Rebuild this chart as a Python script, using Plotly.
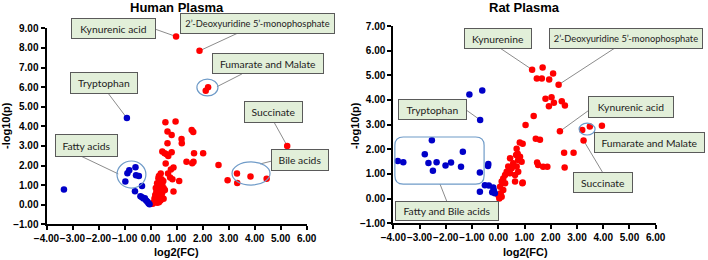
import plotly.graph_objects as go

# ---------------- DATA ----------------
# Human plasma: up-regulated (red)
human_up_x = [0.98, 1.88, 2.21, 2.12, 5.25,
              0.57, 0.96, 0.65, 0.81, 1.58, 1.64, 1.19, 1.20, 0.65, 0.45, 0.54, 0.81, 0.68, 0.62,
              1.67, 2.02, 0.58, 1.38, 1.60, 1.65, 2.61, 0.88, 0.78, 0.67, 0.39, 0.32, 0.75, 0.84,
              1.10, 0.49, 3.32, 3.84, 4.46, 2.96, 3.33, 0.88,
              0.30, 0.42, 0.35, 0.25, 0.45, 0.30, 0.40, 0.20, 0.50, 0.28, 0.38, 0.22, 0.45, 0.30,
              0.18, 0.40, 0.25, 0.35, 0.15, 0.45, 0.28, 0.20, 0.38, 0.12, 0.25, 0.08, 0.32, 0.50, 0.55]
human_up_y = [8.58, 7.85, 5.99, 5.82, 3.00,
              4.21, 4.24, 3.74, 3.56, 3.81, 3.71, 3.35, 3.13, 3.13, 2.72, 2.63, 2.67, 2.49, 2.58,
              2.62, 2.62, 2.10, 2.19, 2.12, 2.19, 2.03, 1.90, 1.80, 1.59, 1.59, 1.47, 1.39, 1.30,
              1.21, 1.21, 1.59, 1.44, 1.33, 1.25, 1.11, 0.67,
              1.35, 1.30, 1.15, 1.10, 1.05, 0.95, 0.90, 0.85, 0.85, 0.78, 0.72, 0.65, 0.62, 0.58,
              0.50, 0.50, 0.42, 0.38, 0.32, 0.35, 0.27, 0.20, 0.22, 0.12, 0.10, 0.05, 0.12, 0.30, 0.75]
# Human plasma: down-regulated (blue)
human_down_x = [-3.33, -0.91, -0.97, -0.89, -0.82, -0.58, -0.56, -0.45, -0.33, -0.60,
                -0.39, -0.33, -0.27, -0.22, -0.17, -0.12, -0.08, -0.04]
human_down_y = [0.77, 4.42, 1.18, 1.61, 1.76, 1.91, 1.50, 1.47, 0.96, 0.68,
                0.43, 0.38, 0.31, 0.33, 0.22, 0.15, 0.07, 0.02]

# Rat plasma: up-regulated (red)
rat_up_x = [1.29, 1.69, 1.47, 1.66, 1.94, 2.09, 2.30, 1.80, 2.03, 2.12, 1.93, 2.42, 2.54,
            1.35, 1.04, 2.35, 3.20, 3.49, 3.95, 3.25, 1.43, 1.59, 2.51, 2.87, 2.53, 1.48, 1.52,
            1.71, 1.87, 0.82, 0.93, 0.70, 0.92, 0.64, 0.74,
            0.68, 0.83, 0.45, 0.76, 0.89, 0.57, 0.38, 0.70, 0.51, 0.32, 0.76, 0.64, 0.26, 0.93,
            0.19, 0.13, 0.26, 0.07, 0.19, 0.09, 0.00, 0.13, 0.04, 0.45]
rat_up_y = [5.23, 5.32, 4.87, 4.87, 4.83, 5.07, 4.62, 4.05, 4.11, 3.89, 3.75, 3.95, 3.78,
            3.35, 2.99, 2.73, 2.78, 2.92, 2.96, 2.36, 2.43, 2.39, 1.86, 1.86, 1.26, 1.47, 1.36,
            1.29, 1.29, 2.28, 2.23, 2.02, 0.62, 0.69, 1.82,
            1.77, 1.70, 1.64, 1.57, 1.50, 1.43, 1.30, 1.30, 1.23, 1.09, 1.09, 0.96, 0.96, 0.65,
            0.82, 0.69, 0.62, 0.48, 0.35, 0.22, 0.15, 0.08, 0.01, 1.03]
# Rat plasma: down-regulated (blue)
rat_down_x = [-3.83, -3.62, -2.53, -2.80, -2.66, -2.35, -2.49, -2.01, -1.80, -1.42, -1.35,
              -0.70, -0.38, -0.39, -0.70, -0.51, -0.36, -0.19, -0.17, -0.23, -0.13,
              -1.10, -0.61, -0.69]
rat_down_y = [1.53, 1.48, 2.37, 1.80, 1.44, 1.48, 1.13, 1.34, 1.47, 1.29, 1.90,
              1.06, 1.40, 1.32, 0.28, 0.54, 0.53, 0.45, 0.33, 0.26, 0.22,
              4.22, 4.38, 3.19]

panel_titles = ["Human Plasma", "Rat Plasma"]
x_title = "log2(FC)"
y_title = "-log10(p)"

# ---------------- STYLE ----------------
RED = "#FF0000"
BLUE = "#0000C8"
BOX_FILL = "#E2EFD9"
BOX_LINE = "#5A5A5A"
CONN = "#8C8C8C"
ELL = "#6F9BC8"
TICKFONT = dict(family="Liberation Sans", size=10, color="black", weight="bold")
LABELFONT = dict(family="Lato", size=10.3, color="#222222")

fig = go.Figure()

def add_pts(x, y, color, xa, ya):
    fig.add_trace(go.Scatter(x=x, y=y, mode="markers", xaxis=xa, yaxis=ya,
                             marker=dict(color=color, size=6.5, line=dict(width=0)),
                             cliponaxis=False, showlegend=False, hoverinfo="x+y"))

add_pts(human_up_x, human_up_y, RED, "x", "y")
add_pts(human_down_x, human_down_y, BLUE, "x", "y")
add_pts(rat_up_x, rat_up_y, RED, "x2", "y2")
add_pts(rat_down_x, rat_down_y, BLUE, "x2", "y2")

def xaxis(domain, anchor):
    return dict(domain=domain, anchor=anchor, range=[-4, 6], tick0=-4, dtick=1,
                tickformat=".2f", tickangle=0, automargin=False,
                showline=True, linecolor="black", linewidth=2,
                ticks="outside", ticklen=4, tickwidth=1.5, tickcolor="black",
                showgrid=False, zeroline=False, tickfont=TICKFONT)

def yaxis(domain, anchor, rng):
    return dict(domain=domain, anchor=anchor, range=rng, tick0=-1, dtick=1,
                tickformat=".2f", automargin=False,
                showline=True, linecolor="black", linewidth=2,
                ticks="outside", ticklen=4, tickwidth=1.5, tickcolor="black",
                showgrid=False, zeroline=False, tickfont=TICKFONT)

W, H = 708, 260
fig.update_layout(
    template="none",
    width=W, height=H, margin=dict(l=0, r=0, t=0, b=0, pad=0, autoexpand=False),
    paper_bgcolor="white", plot_bgcolor="white",
    xaxis=xaxis([46.5 / W, 306.7 / W], "y"),
    yaxis=yaxis([35.7 / H, 231.7 / H], "x", [-1, 9]),
    xaxis2=xaxis([393.3 / W, 655.7 / W], "y2"),
    yaxis2=yaxis([36.7 / H, 234 / H], "x2", [-1, 7]),
)

shapes = []
annots = []

def label(text, xr, yr, x, y, w, h, size=None):
    font = dict(LABELFONT)
    if size:
        font["size"] = size
    annots.append(dict(text=text, xref=xr, yref=yr, x=x, y=y, xanchor="center",
                       yanchor="middle", showarrow=False, width=w, height=h,
                       bgcolor=BOX_FILL, bordercolor=BOX_LINE, borderwidth=1, borderpad=0,
                       font=font))

def conn(xr, yr, x0, y0, x1, y1):
    shapes.append(dict(type="line", xref=xr, yref=yr, x0=x0, y0=y0, x1=x1, y1=y1,
                       line=dict(color=CONN, width=1), layer="below"))

def ell(xr, yr, x0, y0, x1, y1):
    shapes.append(dict(type="circle", xref=xr, yref=yr, x0=x0, y0=y0, x1=x1, y1=y1,
                       line=dict(color=ELL, width=1.2), fillcolor="rgba(0,0,0,0)"))

DEOXY = "2\u2019-Deoxyuridine 5\u2019-monophosphate"

# ---- Human panel annotations ----
conn("x", "y", 0.17, 8.96, 0.98, 8.58)
label("Kynurenic acid", "x", "y", -1.43, 8.98, 83, 19)
conn("x", "y", 3.36, 8.76, 1.88, 7.85)
label(DEOXY, "x", "paper", 4.11, 1 - 23.5 / H, 153, 19, 9.3)
conn("x", "y", 3.51, 6.67, 2.55, 6.02)
ell("x", "y", 1.78, 5.55, 2.59, 6.41)
label("Fumarate and Malate", "x", "y", 4.51, 7.20, 110, 19)
conn("x", "y", -1.64, 5.70, -0.91, 4.42)
label("Tryptophan", "x", "y", -1.79, 6.21, 66, 20)
conn("x", "y", 4.74, 4.22, 5.25, 3.00)
label("Succinate", "x", "y", 4.72, 4.73, 57, 20)
conn("x", "y", -2.71, 2.50, -1.24, 1.57)
ell("x", "y", -1.29, 0.85, -0.18, 2.23)
label("Fatty acids", "x", "y", -2.46, 3.02, 61, 21)
conn("x", "y", 4.67, 2.23, 4.21, 2.08)
ell("x", "y", 3.13, 1.00, 4.59, 2.18)
label("Bile acids", "x", "y", 5.74, 2.28, 56, 20)

# ---- Rat panel annotations ----
conn("x2", "y2", -0.01, 6.16, 1.29, 5.23)
label("Kynurenine", "x2", "y2", -0.01, 6.49, 66, 19)
conn("x2", "y2", 4.52, 6.16, 2.30, 4.62)
label(DEOXY, "x2", "y2", 4.87, 6.49, 152, 19, 9.3)
conn("x2", "y2", -1.23, 3.60, -0.69, 3.19)
label("Tryptophan", "x2", "y2", -2.51, 3.61, 67, 19)
conn("x2", "y2", 3.50, 3.62, 2.35, 2.73)
label("Kynurenic acid", "x2", "y2", 5.06, 3.72, 84, 20)
ell("x2", "y2", 3.08, 2.58, 3.69, 3.06)
conn("x2", "y2", 3.66, 2.66, 3.76, 2.46)
label("Fumarate and Malate", "x2", "y2", 5.76, 2.28, 109, 19)
conn("x2", "y2", 3.99, 1.04, 3.25, 2.36)
label("Succinate", "x2", "y2", 3.99, 0.65, 58, 19)
# rounded rectangle around fatty and bile acids
x0, x1, y0, y1 = -3.94, -0.54, 0.59, 2.50
rx, ry = 0.32, 0.34
path = (f"M {x0+rx},{y1} L {x1-rx},{y1} Q {x1},{y1} {x1},{y1-ry} "
        f"L {x1},{y0+ry} Q {x1},{y0} {x1-rx},{y0} L {x0+rx},{y0} "
        f"Q {x0},{y0} {x0},{y0+ry} L {x0},{y1-ry} Q {x0},{y1} {x0+rx},{y1} Z")
shapes.append(dict(type="path", xref="x2", yref="y2", path=path,
                   line=dict(color=ELL, width=1.2), fillcolor="rgba(0,0,0,0)"))
conn("x2", "y2", -1.95, -0.14, -2.22, 0.59)
label("Fatty and Bile acids", "x2", "y2", -1.95, -0.50, 102, 18)

# ---- Titles ----
titlefont = dict(family="Liberation Sans", size=13, color="black")
annots.append(dict(text=f"<b>{panel_titles[0]}</b>", xref="paper", yref="paper",
                   x=177 / W, y=1 - 7 / H, xanchor="center", yanchor="middle",
                   showarrow=False, font=titlefont))
annots.append(dict(text=f"<b>{panel_titles[1]}</b>", xref="paper", yref="paper",
                   x=524 / W, y=1 - 7 / H, xanchor="center", yanchor="middle",
                   showarrow=False, font=titlefont))
axfont = dict(family="Liberation Sans", size=11, color="black")
for cx in (176, 525):
    annots.append(dict(text=f"<b>{x_title}</b>", xref="paper", yref="paper",
                       x=cx / W, y=1 - 252 / H, xanchor="center", yanchor="middle",
                       showarrow=False, font=axfont))
for cx, cy in ((6, 126), (355, 125)):
    annots.append(dict(text=f"<b>{y_title}</b>", xref="paper", yref="paper",
                       x=cx / W, y=1 - cy / H, xanchor="center", yanchor="middle",
                       textangle=-90, showarrow=False, font=axfont))

fig.update_layout(shapes=shapes, annotations=annots)
fig.write_html("out.html", config={"displayModeBar": False},
               post_script="document.body.style.margin='0';document.body.style.overflow='hidden';")
